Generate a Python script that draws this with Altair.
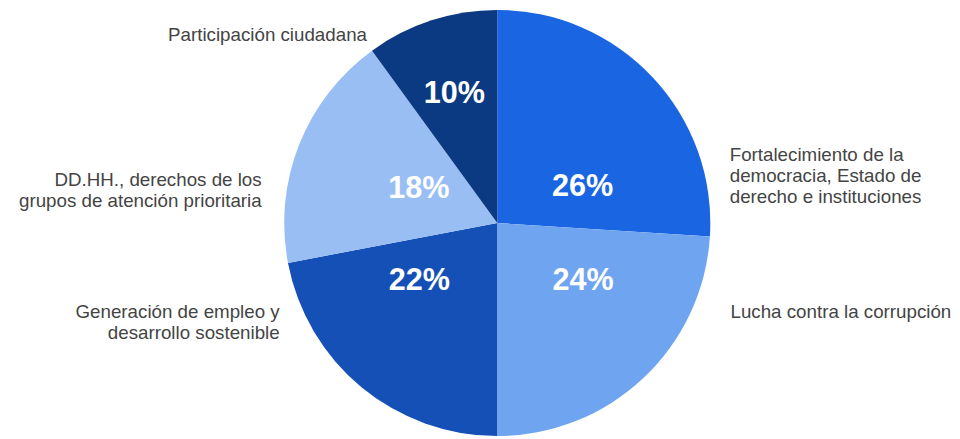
import altair as alt
import pandas as pd

# ---- data ----
categorias = [
    "Fortalecimiento de la democracia, Estado de derecho e instituciones",
    "Lucha contra la corrupción",
    "Generación de empleo y desarrollo sostenible",
    "DD.HH., derechos de los grupos de atención prioritaria",
    "Participación ciudadana",
]
etiquetas = [
    "Fortalecimiento de la\ndemocracia, Estado de\nderecho e instituciones",
    "Lucha contra la corrupción",
    "Generación de empleo y\ndesarrollo sostenible",
    "DD.HH., derechos de los\ngrupos de atención prioritaria",
    "Participación ciudadana",
]
porcentajes = [26, 24, 22, 18, 10]

# ---- styles ----
colores = ["#1a65e2", "#6fa4f0", "#1450b6", "#99bef4", "#0c3a82"]
FONT = "Liberation Sans"
R_PIE = 216
R_PCT = 105
R_LBL = 230
# label nudges (dx, dy) and alignment, per slice index
pct_nudge = [(10, 36), (15, -18), (-12, -22), (18, 4), (-11, -31)]
lbl_nudge = [(68, 89), (79, -77), (-74, -87), (-25, 41), (-61, 28)]
lbl_align = ["left", "left", "right", "right", "right"]

df = pd.DataFrame({
    "cat": categorias,
    "label": etiquetas,
    "pct": porcentajes,
    "orden": list(range(len(categorias))),
})
df["pct_txt"] = df["pct"].astype(str) + "%"

theta_scale = alt.Scale(domain=[0, 100])

base = (
    alt.Chart(df)
    .transform_window(cum="sum(pct)", sort=[alt.SortField("orden")])
    .transform_calculate(mid="datum.cum - datum.pct / 2")
)

pie = base.mark_arc(outerRadius=R_PIE).encode(
    theta=alt.Theta("pct:Q", stack=True, scale=theta_scale),
    order=alt.Order("orden:Q"),
    color=alt.Color("cat:N", scale=alt.Scale(domain=categorias, range=colores), legend=None),
)

layers = [pie]
for i in range(len(categorias)):
    layers.append(
        base.transform_filter(f"datum.orden == {i}")
        .mark_text(
            radius=R_PCT, dx=pct_nudge[i][0], dy=pct_nudge[i][1],
            font=FONT, fontSize=31, fontWeight="bold", color="white",
            align="center", baseline="middle",
        )
        .encode(theta=alt.Theta("mid:Q", stack=None, scale=theta_scale), text="pct_txt:N")
    )
    layers.append(
        base.transform_filter(f"datum.orden == {i}")
        .mark_text(
            radius=R_LBL, dx=lbl_nudge[i][0], dy=lbl_nudge[i][1],
            font=FONT, fontSize=19, color="#444444",
            align=lbl_align[i], baseline="middle", lineBreak="\n", lineHeight=21,
        )
        .encode(theta=alt.Theta("mid:Q", stack=None, scale=theta_scale), text="label:N")
    )

chart = (
    alt.layer(*layers)
    .properties(
        width=870, height=424,
        autosize=alt.AutoSizeParams(type="none"),
        padding={"left": 61, "top": 3, "right": 26, "bottom": 3},
        background="white",
    )
    .configure_view(stroke=None)
)

chart.save("out.html", embed_options={"renderer": "svg", "actions": False})
